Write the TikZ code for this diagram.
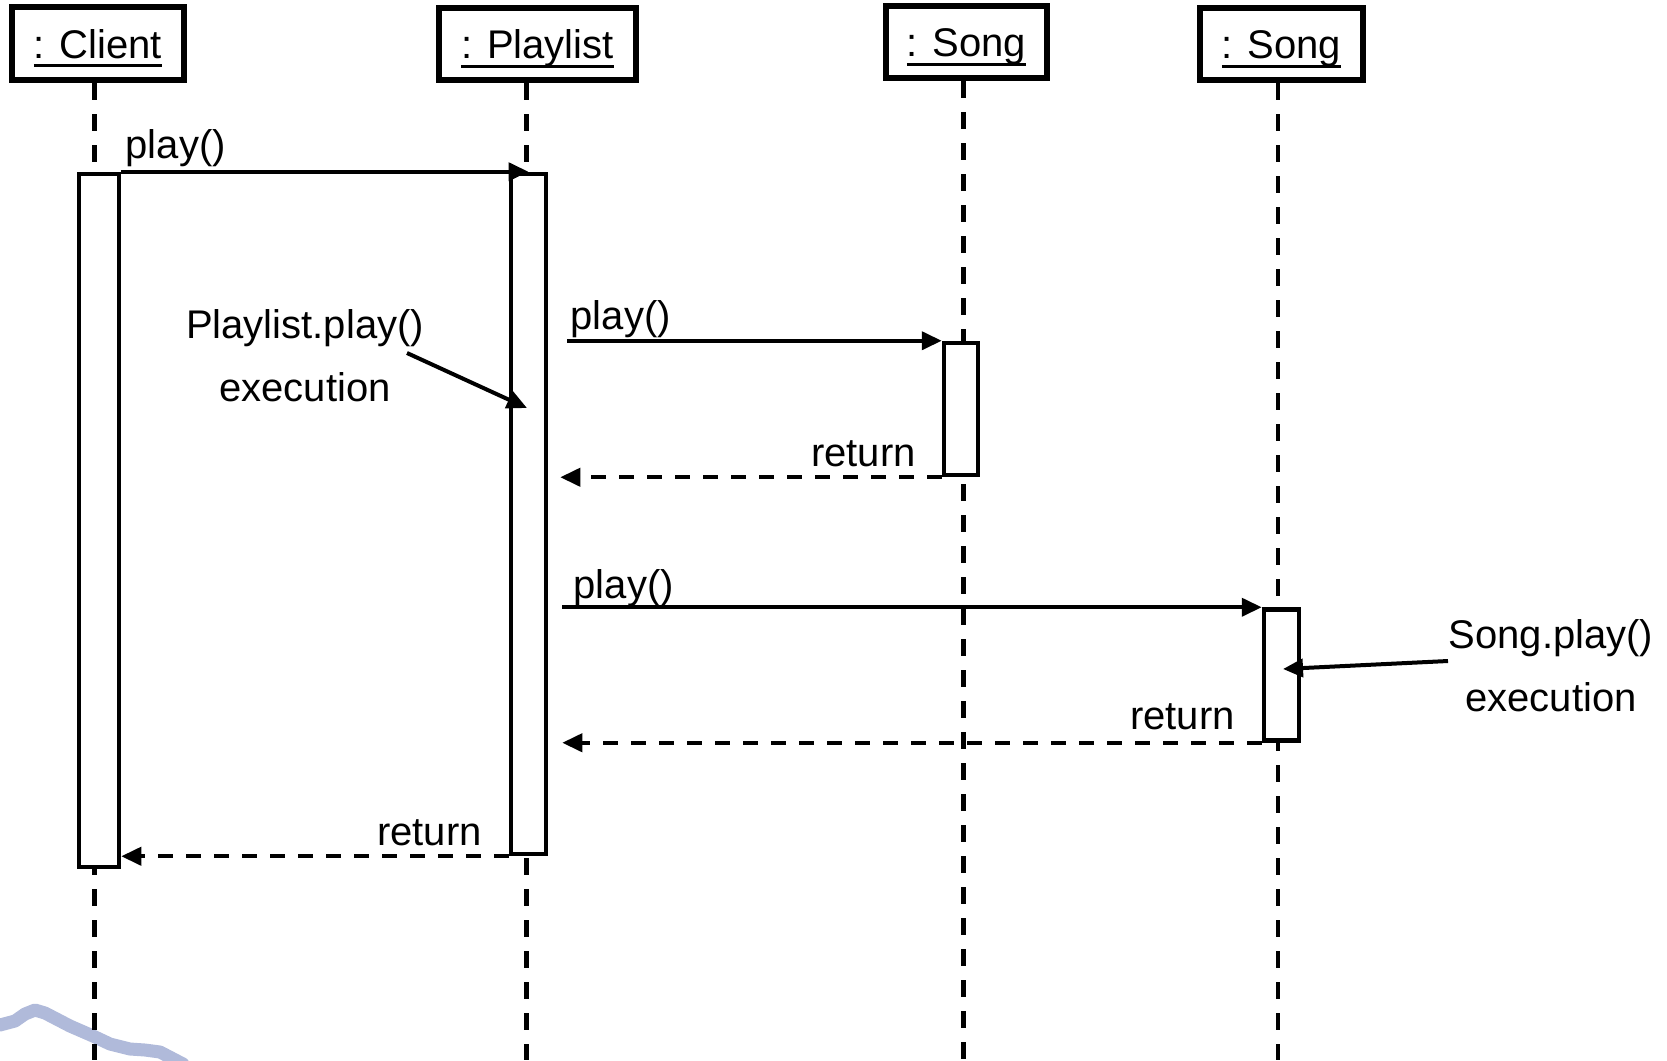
\documentclass[tikz,border=0pt]{standalone}
\usepackage{fontspec}
\setmainfont{Liberation Sans}
\usetikzlibrary{arrows.meta}

\definecolor{logoblue}{RGB}{176,186,218}

\tikzstyle{object}=[rectangle, draw, line width=6pt, inner sep=0pt, text height=38pt, text depth=9pt]
\tikzstyle{bar}=[rectangle, draw, fill=white, line width=4.5pt, inner sep=0pt]
\tikzstyle{lifeline}=[-, line width=4.5pt, dash pattern=on 17pt off 14pt]
\tikzstyle{call}=[-{Triangle[length=20pt,width=18pt]}, line width=4pt]
\tikzstyle{reply}=[-{Triangle[length=20pt,width=18pt]}, line width=4pt, dash pattern=on 15pt off 13pt]
\tikzstyle{note}=[-{Triangle[length=20pt,width=18pt]}, line width=4pt]

% underlined object name
\newcommand{\objname}[1]{\setbox0\hbox{#1}\rlap{\vrule height -6pt depth 9pt width \wd0}\box0}

\begin{document}
\begin{tikzpicture}[x=1pt, y=-1pt, every node/.style={font=\fontsize{40}{63}\selectfont}]
	\useasboundingbox (0,0) rectangle (1667,1060);

	% logo fragment in the corner
	\draw[logoblue, line width=13pt, line join=round, line cap=round] (0,1025) -- (15,1021) -- (25,1014) -- (35,1010) -- (45,1013) -- (70,1026) -- (93,1036) -- (110,1044) -- (130,1049) -- (145,1050) -- (160,1052) -- (183,1064);

	\node (client) at (98, 43.5) [object, minimum width=172pt, minimum height=73pt] {\objname{: Client}};
	\node (playlist) at (537.5, 44) [object, minimum width=197pt, minimum height=72pt] {\objname{: Playlist}};
	\node (songA) at (966.5, 42) [object, minimum width=161pt, minimum height=72pt] {\objname{: Song}};
	\node (songB) at (1281.5, 44) [object, minimum width=163pt, minimum height=72pt] {\objname{: Song}};

	\coordinate (clientEnd) at (94.5, 1060);
	\coordinate (playlistEnd) at (526.5, 1060);
	\coordinate (songAEnd) at (963.5, 1060);
	\coordinate (songBEnd) at (1278, 1060);
	\draw[lifeline] (client.south -| clientEnd) -- (clientEnd);
	\draw[lifeline] (playlist.south -| playlistEnd) -- (playlistEnd);
	\draw[lifeline] (songA.south -| songAEnd) -- (songAEnd);
	\draw[lifeline] (songB.south -| songBEnd) -- (songBEnd);

	\node (clientbar) at (99, 520.5) [bar, minimum width=40pt, minimum height=693pt] {};
	\node (playlistbar) at (528.5, 514) [bar, minimum width=35pt, minimum height=680pt] {};
	\node (songAbar) at (961, 409) [bar, minimum width=34pt, minimum height=132pt] {};
	\node (songBbar) at (1281.5, 675) [bar, minimum width=35pt, minimum height=131pt] {};

	\draw[call] (clientbar.north east) -- (playlistbar.north) node[pos=0, anchor=base west, inner sep=0pt, xshift=2.5pt, yshift=13pt] {play()};
	\draw[call, shorten <=19pt] (playlistbar.east |- songAbar.north) -- (songAbar.north west) node[pos=0, anchor=base west, inner sep=0pt, xshift=20.5pt, yshift=11pt] {play()};
	\draw[reply, shorten >=12pt] (songAbar.south west) -- (songAbar.south west -| playlistbar.east) node[pos=0, anchor=base east, inner sep=0pt, xshift=-24pt, yshift=11pt] {return};
	\draw[call, shorten <=14pt] (playlistbar.east |- songBbar.north) -- (songBbar.north west) node[pos=0, anchor=base west, inner sep=0pt, xshift=23.5pt, yshift=9pt] {play()};
	\draw[reply, shorten >=14pt] (songBbar.south west) -- (songBbar.south west -| playlistbar.east) node[pos=0, anchor=base east, inner sep=0pt, xshift=-25pt, yshift=13pt] {return};
	\draw[reply] (playlistbar.south west) -- (playlistbar.south west -| clientbar.east) node[pos=0, anchor=base east, inner sep=0pt, xshift=-25pt, yshift=11pt] {return};

	% execution notes
	\node (playnote) at (305, 356) [align=center] {Playlist.play()\\execution};
	\coordinate (playnoteTail) at (407, 353);
	\coordinate (playlistExec) at (527, 408);
	\draw[note] (playnoteTail) -- (playlistExec);

	\node (songnote) at (1551, 666) [align=center] {Song.play()\\execution};
	\coordinate (songnoteTail) at (1448, 661);
	\coordinate (songBExec) at (1283, 669);
	\draw[note] (songnoteTail) -- (songBExec);
\end{tikzpicture}
\end{document}
